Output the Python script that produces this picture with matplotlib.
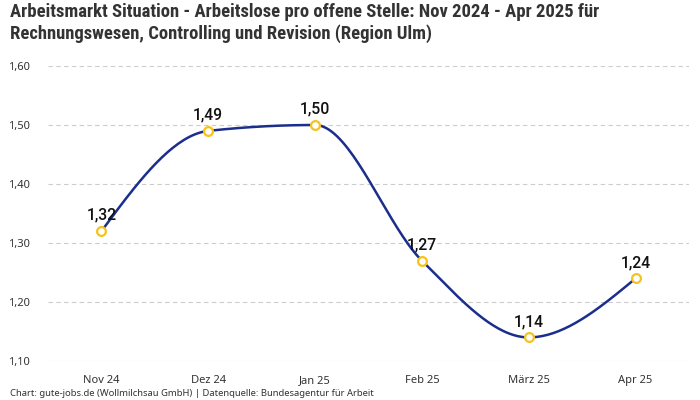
import numpy as np
import matplotlib
matplotlib.use("Agg")
import matplotlib.pyplot as plt
from matplotlib import font_manager

months = ["Nov 24", "Dez 24", "Jan 25", "Feb 25", "März 25", "Apr 25"]
values = [1.32, 1.49, 1.50, 1.27, 1.14, 1.24]
y_ticks = [1.10, 1.20, 1.30, 1.40, 1.50, 1.60]

title = ("Arbeitsmarkt Situation - Arbeitslose pro offene Stelle: Nov 2024 - Apr 2025 für\n"
         "Rechnungswesen, Controlling und Revision (Region Ulm)")
footer = "Chart: gute-jobs.de (Wollmilchsau GmbH) | Datenquelle: Bundesagentur für Arbeit"

fl = font_manager.fontManager.ttflist
names = {f.name for f in fl}
title_family = [n for n in ["Liberation Sans Narrow", "Roboto Condensed", "Open Sans Condensed", "DejaVu Sans"] if n in names] or ["DejaVu Sans"]
body = "Noto Sans" if "Noto Sans" in names else "DejaVu Sans"
# pick a family that has a medium/semibold face for the data labels
label_family, label_weight = body, "bold"
for fam in ["Roboto", "Inter", "Open Sans", "Lato", "Noto Sans"]:
    ws = {f.weight for f in fl if f.name == fam}
    if 500 in ws:
        label_family, label_weight = fam, 500
        break
    if 600 in ws:
        label_family, label_weight = fam, 600
        break


def monotone(x, y, n=40):
    x = np.asarray(x, float); y = np.asarray(y, float)
    h = np.diff(x); d = np.diff(y) / h
    m = np.zeros_like(y)
    for i in range(1, len(y) - 1):
        if d[i - 1] * d[i] <= 0:
            m[i] = 0
        else:
            s = (d[i - 1] * h[i] + d[i] * h[i - 1]) / (h[i - 1] + h[i])
            m[i] = (np.sign(d[i - 1]) + np.sign(d[i])) * min(abs(d[i - 1]), abs(d[i]), 0.5 * abs(s))
    m[0] = (3 * d[0] - m[1]) / 2
    m[-1] = (3 * d[-1] - m[-2]) / 2
    xs, ys = [], []
    for i in range(len(h)):
        t = np.linspace(0, 1, n)
        h00 = 2 * t**3 - 3 * t**2 + 1
        h10 = t**3 - 2 * t**2 + t
        h01 = -2 * t**3 + 3 * t**2
        h11 = t**3 - t**2
        xs.append(x[i] + t * h[i])
        ys.append(h00 * y[i] + h10 * h[i] * m[i] + h01 * y[i + 1] + h11 * h[i] * m[i + 1])
    return np.concatenate(xs), np.concatenate(ys)


fig = plt.figure(figsize=(7, 4), dpi=100)
ax = fig.add_axes([48 / 700, 1 - 361 / 400, (689 - 48) / 700, (361 - 66) / 400])

xpos = np.arange(len(months))
cx, cy = monotone(xpos, values)
ax.plot(cx, cy, color="#1c2e8c", lw=1.8, zorder=3, solid_capstyle="round")
ax.scatter(xpos, values, s=40, facecolor="white", edgecolor="#f7c21a", linewidth=1.6, zorder=4)
for x, v in zip(xpos, values):
    ax.annotate(f"{v:.2f}".replace(".", ","), (x, v), xytext=(0, 6), textcoords="offset points",
                ha="center", va="bottom", fontsize=11.3, fontweight=label_weight, color="#111111",
                family=label_family, zorder=5)

ax.set_xlim(-0.5, len(months) - 0.5)
ax.set_ylim(1.10, 1.60)
ax.set_yticks(y_ticks)
ax.set_yticklabels([f"{t:.2f}".replace(".", ",") for t in y_ticks])
ax.set_xticks(xpos)
ax.set_xticklabels(months)
ax.tick_params(axis="both", length=0, labelsize=8, labelcolor="#333333")
ax.tick_params(axis="y", pad=13)
ax.tick_params(axis="x", pad=10)
for lab in ax.get_xticklabels() + ax.get_yticklabels():
    lab.set_family(body)
for y in y_ticks:
    ax.axhline(y, color="#cccccc", lw=0.8, ls=(0, (4, 3)), zorder=1)
for s in ax.spines.values():
    s.set_visible(False)

fig.text(10 / 700, 1 - 3 / 400, title, ha="left", va="top", fontsize=13.4, fontweight="bold",
         family=title_family, color="#333333", linespacing=1.2)
fig.text(10 / 700, 1 - 393 / 400, footer, ha="left", va="center", fontsize=6.8, family=body,
         color="#333333")

fig.savefig("out.png", dpi=100)
